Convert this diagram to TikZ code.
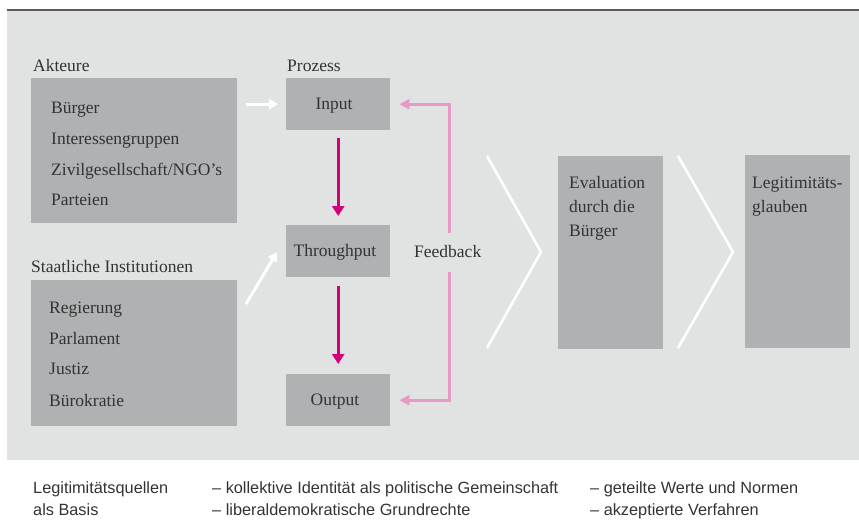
\documentclass[tikz,border=0pt]{standalone}
\usepackage{fontspec}
\setmainfont{Liberation Serif}
\newfontfamily\capfont{Liberation Sans}
\usetikzlibrary{arrows.meta}
\definecolor{panel}{HTML}{E1E2E2}
\definecolor{boxgray}{HTML}{B0B1B2}
\definecolor{rulegray}{HTML}{5A5A5A}
\definecolor{magentaArrow}{HTML}{D4007A}
\definecolor{pinkArrow}{HTML}{E89AC7}
\definecolor{txt}{HTML}{333333}
\begin{document}
\begin{tikzpicture}[x=1pt,y=-1pt,
  graybox/.style={fill=boxgray, draw=none, inner sep=0pt, anchor=north west, text=txt, font=\fontsize{17.5}{20}\selectfont},
  lbl/.style={anchor=base west, inner sep=0pt, text=txt, font=\fontsize{17.5}{20}\selectfont},
  captxt/.style={anchor=base west, inner sep=0pt, text=txt, font=\capfont\fontsize{16.3}{19}\selectfont},
  whitearrow/.style={draw=white, line width=3pt, -{Triangle[length=9pt,width=10pt]}},
  magarrow/.style={draw=magentaArrow, line width=3pt, -{Triangle[length=10pt,width=12pt]}},
  fbarrow/.style={draw=pinkArrow, line width=3pt, -{Triangle[length=10pt,width=10pt]}},
  chevron/.style={draw=white, line width=2.5pt, miter limit=10}]
\useasboundingbox (0,0) rectangle (859,520);
\fill[panel] (7,11) rectangle (859,460);
\draw[rulegray, line width=2pt] (7,10) -- (859,10);

% boxes
\node[graybox, minimum width=206pt, minimum height=145pt] (akt) at (31,78) {};
\node[graybox, minimum width=206pt, minimum height=146pt] (staat) at (31,280) {};
\node[graybox, minimum width=104pt, minimum height=52pt] (input) at (286,78) {};
\node[graybox, minimum width=104pt, minimum height=52pt] (through) at (286,225) {};
\node[graybox, minimum width=104pt, minimum height=52pt] (output) at (286,374) {};
\node[graybox, minimum width=105pt, minimum height=193pt] (eval) at (558,156) {};
\node[graybox, minimum width=105pt, minimum height=193pt] (legit) at (745,155) {};

% box texts
\node[lbl, anchor=base] (tin) at (334,109) {Input};
\node[lbl, anchor=base] (tthr) at (335,256) {Throughput};
\node[lbl, anchor=base] (tout) at (335,405) {Output};

% labels
\node[lbl] (lakt) at (33,71) {Akteure};
\node[lbl] (lproz) at (287,71) {Prozess};
\node[lbl] (lstaat) at (31,272) {Staatliche Institutionen};
\node[lbl] (a1) at (51,113) {Bürger};
\node[lbl] (a2) at (51,144) {Interessengruppen};
\node[lbl] (a3) at (51,175) {Zivilgesellschaft/NGO's};
\node[lbl] (a4) at (51,205) {Parteien};
\node[lbl] (s1) at (49,313) {Regierung};
\node[lbl] (s2) at (49,344) {Parlament};
\node[lbl] (s3) at (49,374) {Justiz};
\node[lbl] (s4) at (49,406) {Bürokratie};
\node[lbl] (fb) at (414,257) {Feedback};
\node[lbl] (e1) at (569,188) {Evaluation};
\node[lbl] (e2) at (569,212) {durch die};
\node[lbl] (e3) at (569,236) {Bürger};
\node[lbl] (g1) at (752,188) {Legitimitäts-};
\node[lbl] (g2) at (752,212) {glauben};

% arrows
\draw[whitearrow, shorten <=9pt, shorten >=8pt] (input.west -| akt.east) -- (input.west);
\coordinate (d1) at (246,304);
\coordinate (d2) at (277,252);
\draw[whitearrow] (d1) -- (d2);
\draw[magarrow] ([yshift=-8pt]input.south) -- ([yshift=9pt]through.north);
\draw[magarrow] ([yshift=-9pt]through.south) -- ([yshift=10pt]output.north);
\coordinate (fbtop) at (449,233);
\coordinate (fbbot) at (449,272);
\draw[fbarrow] (fbtop) |- ([xshift=9pt]input.east);
\draw[fbarrow] (fbbot) |- ([xshift=9pt]output.east);

% chevrons
\draw[chevron] (487,156) -- (541,252) -- (487,348);
\draw[chevron] (678,156) -- (733,252) -- (678,348);

% caption
\node[captxt] (c1) at (33,493) {Legitimitätsquellen};
\node[captxt] (c2) at (33,515) {als Basis};
\node[captxt] (c3) at (212,493) {– kollektive Identität als politische Gemeinschaft};
\node[captxt] (c4) at (212,515) {– liberaldemokratische Grundrechte};
\node[captxt] (c5) at (590,493) {– geteilte Werte und Normen};
\node[captxt] (c6) at (590,515) {– akzeptierte Verfahren};
\end{tikzpicture}
\end{document}
